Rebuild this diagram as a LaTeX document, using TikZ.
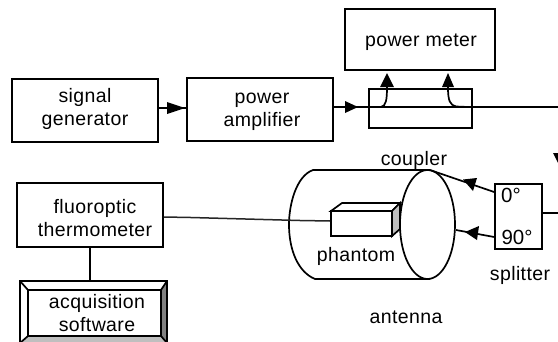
\documentclass[tikz,border=0pt]{standalone}
\usepackage{fontspec}
\setmainfont{Liberation Sans}
\usetikzlibrary{arrows.meta}
\tikzset{
  box/.style={draw=black,line width=1.7pt,fill=white,inner sep=0pt},
  lbl/.style={inner sep=0pt,align=center,font=\dtxt},
  wire/.style={draw=black,line width=1.7pt},
  thinwire/.style={draw=black!85,line width=1.5pt},
}
\newcommand{\dtxt}{\fontsize{19.5}{23.5}\selectfont\addfontfeatures{LetterSpace=2}}
\begin{document}
\begin{tikzpicture}[x=1pt,y=-1pt]
\useasboundingbox (0,0) rectangle (558,341);
\fill[white] (0,0) rectangle (558,341);
\clip (0,0) rectangle (558,341);
% boxes
\node[box,minimum width=146pt,minimum height=63pt] (sg) at (85,110.5) {};
\node[lbl] (lsg) at (85,109) {signal\\generator};
\node[box,minimum width=146pt,minimum height=63pt] (pa) at (260,109.5) {};
\node[lbl] (lpa) at (262,112) {power\\amplifier};
\node[box,minimum width=150pt,minimum height=61pt] (pm) at (420,39.5) {};
\node[lbl] (lpm) at (421,42.5) {power meter};
\node[draw=black,line width=1.7pt,minimum width=103pt,minimum height=39pt,inner sep=0pt] (cp) at (420.5,108.5) {};
\coordinate (rt) at (558,107);
\coordinate (cpl) at (cp.west |- rt);
\coordinate (cpr) at (cp.east |- rt);
% main line
\draw[wire] (sg.east |- 0,108) -- (pa.west |- 0,108);
\fill (167,102) -- (185,108) -- (167,114) -- cycle;
\draw[wire] (pa.east |- 0,107) -- (cpl);
\fill (345,101) -- (358,107) -- (345,113) -- cycle;
\draw[wire] (cpl) -- (rt);
% coupler taps
\coordinate (t1) at (387,73);
\coordinate (t2) at (448,73);
\draw[wire] (cpl) -- (381,107) .. controls (386,106) and (387,100) .. (387,87);
\draw[wire] (468,107) -- (456,106.5) .. controls (450,105) and (448,101) .. (448,87);
\fill (t1) -- (380,87) -- (394,87) -- cycle;
\fill (t2) -- (442,87) -- (454,87) -- cycle;
% labels
\node[lbl] (lc) at (414,160) {coupler};
% clipped arrowhead at right
\fill (553,153) -- (558,153) -- (558,163) -- cycle;
% antenna
\coordinate (top) at (430,170);
\coordinate (bot) at (430,279);
\draw[wire] (top) -- (313,170) .. controls (296,176) and (289,205) .. (289,224.5)
  .. controls (289,250) and (298,272) .. (315,279) -- (bot);
\draw[wire,fill=white] (427.5,224.5) ellipse [x radius=27.5,y radius=54.5];
% phantom
\filldraw[line width=1.7pt,fill=white] (331,211) -- (342,203) -- (400,203) -- (392,211) -- cycle;
\filldraw[line width=1.7pt,fill=black!25] (392,211) -- (400,203) -- (400,229) -- (392,236) -- cycle;
\node[box,minimum width=61pt,minimum height=25pt] (ph) at (361.5,223.5) {};
\node[lbl] (lph) at (356,256.5) {phantom};
% splitter
\node[box,minimum width=47pt,minimum height=65pt] (sp) at (518.5,216.5) {};
\node[lbl,font=\fontsize{20.5}{24}\selectfont] (d0) at (511,195) {0°};
\node[lbl,font=\fontsize{20.5}{24}\selectfont] (d90) at (517,237.5) {90°};
\draw[wire] (sp.east |- 0,213) -- (558,213);
\coordinate (e0) at (430,170);
\coordinate (e90) at (456,230);
\draw[wire] (sp.west |- 0,192) -- (e0);
\fill (463,179.5) -- (477,178) -- (473,191) -- cycle;
\draw[wire] (sp.west |- 0,237) -- (e90);
\fill (465,232) -- (479,226) -- (477,240) -- cycle;
\node[lbl] (ls) at (520,275) {splitter};
\node[lbl] (la) at (406,317) {antenna};
% thermometer
\node[box,minimum width=146pt,minimum height=64pt] (th) at (90,215) {};
\node[lbl] (lth) at (95,218) {fluoroptic\\thermometer};
\draw[thinwire] (th.east |- 0,217) -- (191,217.5) -- (300,220.5) -- (ph.west |- 0,221);
% software
\coordinate (swtop) at (90,281);
\fill[black!50] (161,290) -- (167,281) -- (167,345) -- (161,336) -- cycle;
\fill[black!25] (28,336) -- (161,336) -- (167,345) -- (20,345) -- cycle;
\draw[wire] (20,281) rectangle (167,345);
\draw[wire] (20,281) -- (28,290);
\draw[wire] (167,281) -- (161,290);
\draw[wire] (161,336) -- (167,343);
\draw[wire] (28,336) -- (20,343);
\node[box,minimum width=133pt,minimum height=46pt] (sw) at (94.5,313) {};
\node[lbl] (lsw) at (97,313) {acquisition\\software};
\draw[wire] (th.south) -- (swtop);
\end{tikzpicture}
\end{document}
